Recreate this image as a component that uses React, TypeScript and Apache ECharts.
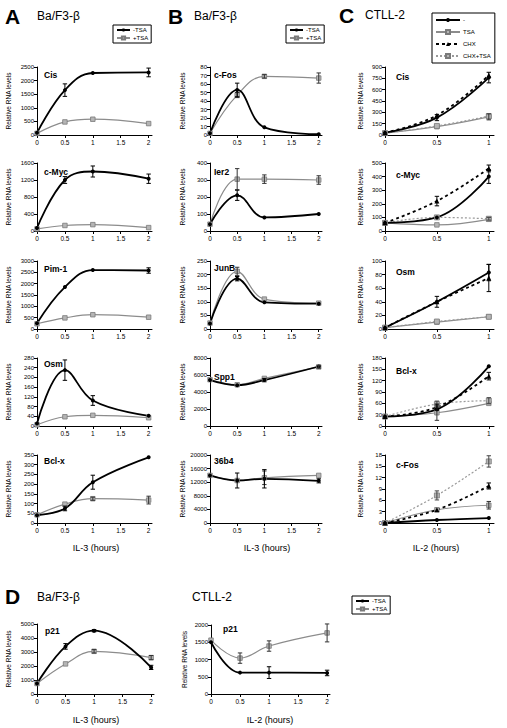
import React, { useEffect, useRef } from "react";
import * as echarts from "echarts";

const FONT = "'Liberation Sans', Arial, sans-serif";

// ---------------- x values (hours) ----------------
const HOURS_IL3 = [0, 0.5, 1, 2];
const HOURS_IL2_C = [0, 0.5, 1];
const HOURS_IL2_D = [0, 0.5, 1, 2];
const X_TICKS_2H = [0, 0.5, 1, 1.5, 2];
const X_TICKS_1H = [0, 0.5, 1];

// ---------------- Panel A: Ba/F3-β (-TSA / +TSA) ----------------
const A_CIS_NO = [80, 1650, 2280, 2300];
const A_CIS_NO_ERR = [0, 230, 0, 160];
const A_CIS_TSA = [60, 480, 580, 420];
const A_CIS_TSA_ERR = [0, 0, 0, 0];

const A_MYC_NO = [70, 1200, 1400, 1230];
const A_MYC_NO_ERR = [0, 80, 130, 110];
const A_MYC_TSA = [50, 130, 150, 80];
const A_MYC_TSA_ERR = [0, 0, 0, 0];

const A_PIM_NO = [250, 1850, 2600, 2580];
const A_PIM_NO_ERR = [0, 0, 0, 120];
const A_PIM_TSA = [230, 490, 630, 520];
const A_PIM_TSA_ERR = [0, 0, 0, 0];

const A_OSM_NO = [10, 230, 105, 42];
const A_OSM_NO_ERR = [0, 42, 20, 0];
const A_OSM_TSA = [5, 38, 44, 34];
const A_OSM_TSA_ERR = [0, 0, 0, 0];

const A_BCL_NO = [40, 75, 210, 338];
const A_BCL_NO_ERR = [0, 12, 36, 0];
const A_BCL_TSA = [42, 97, 125, 118];
const A_BCL_TSA_ERR = [0, 0, 8, 20];

// ---------------- Panel B: Ba/F3-β (-TSA / +TSA) ----------------
const B_FOS_NO = [2, 53, 9, 1];
const B_FOS_NO_ERR = [0, 8, 0, 0];
const B_FOS_TSA = [2, 47, 69, 67];
const B_FOS_TSA_ERR = [0, 3, 2, 6];

const B_IER2_NO = [40, 210, 80, 100];
const B_IER2_NO_ERR = [0, 30, 0, 0];
const B_IER2_TSA = [40, 305, 305, 300];
const B_IER2_TSA_ERR = [0, 62, 25, 25];

const B_JUNB_NO = [20, 185, 98, 93];
const B_JUNB_NO_ERR = [0, 8, 0, 0];
const B_JUNB_TSA = [22, 212, 110, 95];
const B_JUNB_TSA_ERR = [0, 15, 0, 0];

const B_SPP1_NO = [5400, 4800, 5400, 7000];
const B_SPP1_NO_ERR = [0, 0, 200, 0];
const B_SPP1_TSA = [5450, 4850, 5600, 6950];
const B_SPP1_TSA_ERR = [0, 0, 0, 150];

const B_36B4_NO = [14000, 12500, 13000, 12400];
const B_36B4_NO_ERR = [0, 2200, 2700, 600];
const B_36B4_TSA = [14000, 12500, 13300, 14000];
const B_36B4_TSA_ERR = [0, 0, 2000, 0];

// ---------------- Panel C: CTLL-2 (-, TSA, CHX, CHX+TSA) ----------------
const C_CIS_NO = [30, 230, 760];
const C_CIS_NO_ERR = [0, 40, 70];
const C_CIS_TSA = [25, 110, 240];
const C_CIS_TSA_ERR = [0, 0, 40];
const C_CIS_CHX = [30, 260, 790];
const C_CIS_CHX_ERR = [0, 0, 0];
const C_CIS_CHXTSA = [25, 120, 250];
const C_CIS_CHXTSA_ERR = [0, 0, 0];

const C_MYC_NO = [60, 100, 400];
const C_MYC_NO_ERR = [0, 0, 50];
const C_MYC_TSA = [60, 45, 86];
const C_MYC_TSA_ERR = [0, 0, 0];
const C_MYC_CHX = [60, 220, 460];
const C_MYC_CHX_ERR = [0, 35, 25];
const C_MYC_CHXTSA = [60, 100, 90];
const C_MYC_CHXTSA_ERR = [0, 0, 10];

const C_OSM_NO = [2, 40, 83];
const C_OSM_NO_ERR = [0, 8, 12];
const C_OSM_TSA = [2, 10, 18];
const C_OSM_TSA_ERR = [0, 0, 0];
const C_OSM_CHX = [2, 40, 75];
const C_OSM_CHX_ERR = [0, 0, 20];
const C_OSM_CHXTSA = [2, 11, 18];
const C_OSM_CHXTSA_ERR = [0, 0, 0];

const C_BCL_NO = [25, 44, 158];
const C_BCL_NO_ERR = [0, 0, 0];
const C_BCL_TSA = [25, 35, 60];
const C_BCL_TSA_ERR = [0, 20, 0];
const C_BCL_CHX = [25, 50, 132];
const C_BCL_CHX_ERR = [0, 8, 10];
const C_BCL_CHXTSA = [25, 58, 67];
const C_BCL_CHXTSA_ERR = [0, 8, 8];

const C_FOS_NO = [0, 0.8, 1.3];
const C_FOS_NO_ERR = [0, 0, 0];
const C_FOS_TSA = [0, 3.5, 4.7];
const C_FOS_TSA_ERR = [0, 0, 1];
const C_FOS_CHX = [0, 3.5, 9.8];
const C_FOS_CHX_ERR = [0, 0, 0.8];
const C_FOS_CHXTSA = [0, 7.3, 16.3];
const C_FOS_CHXTSA_ERR = [0, 1.2, 1.5];

// ---------------- Panel D: p21 ----------------
const D_BAF_NO = [750, 3400, 4520, 1900];
const D_BAF_NO_ERR = [0, 200, 80, 150];
const D_BAF_TSA = [750, 2150, 3050, 2600];
const D_BAF_TSA_ERR = [0, 0, 120, 150];

const D_CTLL_NO = [1500, 620, 620, 610];
const D_CTLL_NO_ERR = [0, 0, 170, 80];
const D_CTLL_TSA = [1560, 1040, 1390, 1770];
const D_CTLL_TSA_ERR = [0, 150, 150, 260];

// ---------------- series names ----------------
const AB_NAMES = ["-TSA", "+TSA"];
const C_NAMES = ["-", "TSA", "CHX", "CHX+TSA"];

// ---------------- styles ----------------
const STYLES: Record<string, any> = {
  black: {
    lineStyle: { color: "#000", width: 1.8 },
    symbol: "circle",
    symbolSize: 4,
    itemStyle: { color: "#000" },
    err: "#000",
  },
  gray: {
    lineStyle: { color: "#8c8c8c", width: 1.2 },
    symbol: "rect",
    symbolSize: 4.5,
    itemStyle: { color: "#b5b5b5", borderColor: "#7a7a7a", borderWidth: 0.8 },
    err: "#333",
  },
  blackDash: {
    lineStyle: { color: "#000", width: 1.8, type: [3, 3] },
    symbol: "triangle",
    symbolSize: 5,
    itemStyle: { color: "#000" },
    err: "#000",
  },
  grayDash: {
    lineStyle: { color: "#9a9a9a", width: 1.2, type: [2, 2] },
    symbol: "rect",
    symbolSize: 5,
    itemStyle: { color: "#b5b5b5", borderColor: "#7a7a7a", borderWidth: 0.8 },
    err: "#444",
  },
};

type Trace = [string, number[], number[], string];
interface PlotDef {
  gene: string;
  yMax: number;
  yStep: number;
  x: number[];
  xTicks: number[];
  xMax: number;
  traces: Trace[];
}

const ab = (no: number[], noErr: number[], tsa: number[], tsaErr: number[]): Trace[] => [
  [AB_NAMES[1], tsa, tsaErr, "gray"],
  [AB_NAMES[0], no, noErr, "black"],
];
const c4 = (
  no: number[], noE: number[], tsa: number[], tsaE: number[],
  chx: number[], chxE: number[], ct: number[], ctE: number[]
): Trace[] => [
  [C_NAMES[1], tsa, tsaE, "gray"],
  [C_NAMES[3], ct, ctE, "grayDash"],
  [C_NAMES[2], chx, chxE, "blackDash"],
  [C_NAMES[0], no, noE, "black"],
];

const PLOTS: PlotDef[] = [
  // A
  { gene: "Cis", yMax: 2500, yStep: 500, x: HOURS_IL3, xTicks: X_TICKS_2H, xMax: 2.06, traces: ab(A_CIS_NO, A_CIS_NO_ERR, A_CIS_TSA, A_CIS_TSA_ERR) },
  { gene: "c-Myc", yMax: 1600, yStep: 400, x: HOURS_IL3, xTicks: X_TICKS_2H, xMax: 2.06, traces: ab(A_MYC_NO, A_MYC_NO_ERR, A_MYC_TSA, A_MYC_TSA_ERR) },
  { gene: "Pim-1", yMax: 3000, yStep: 500, x: HOURS_IL3, xTicks: X_TICKS_2H, xMax: 2.06, traces: ab(A_PIM_NO, A_PIM_NO_ERR, A_PIM_TSA, A_PIM_TSA_ERR) },
  { gene: "Osm", yMax: 280, yStep: 40, x: HOURS_IL3, xTicks: X_TICKS_2H, xMax: 2.06, traces: ab(A_OSM_NO, A_OSM_NO_ERR, A_OSM_TSA, A_OSM_TSA_ERR) },
  { gene: "Bcl-x", yMax: 350, yStep: 50, x: HOURS_IL3, xTicks: X_TICKS_2H, xMax: 2.06, traces: ab(A_BCL_NO, A_BCL_NO_ERR, A_BCL_TSA, A_BCL_TSA_ERR) },
  // B
  { gene: "c-Fos", yMax: 80, yStep: 10, x: HOURS_IL3, xTicks: X_TICKS_2H, xMax: 2.06, traces: ab(B_FOS_NO, B_FOS_NO_ERR, B_FOS_TSA, B_FOS_TSA_ERR) },
  { gene: "Ier2", yMax: 400, yStep: 100, x: HOURS_IL3, xTicks: X_TICKS_2H, xMax: 2.06, traces: ab(B_IER2_NO, B_IER2_NO_ERR, B_IER2_TSA, B_IER2_TSA_ERR) },
  { gene: "JunB", yMax: 250, yStep: 50, x: HOURS_IL3, xTicks: X_TICKS_2H, xMax: 2.06, traces: ab(B_JUNB_NO, B_JUNB_NO_ERR, B_JUNB_TSA, B_JUNB_TSA_ERR) },
  { gene: "Spp1", yMax: 8000, yStep: 2000, x: HOURS_IL3, xTicks: X_TICKS_2H, xMax: 2.06, traces: ab(B_SPP1_NO, B_SPP1_NO_ERR, B_SPP1_TSA, B_SPP1_TSA_ERR) },
  { gene: "36b4", yMax: 20000, yStep: 4000, x: HOURS_IL3, xTicks: X_TICKS_2H, xMax: 2.06, traces: ab(B_36B4_NO, B_36B4_NO_ERR, B_36B4_TSA, B_36B4_TSA_ERR) },
  // C
  { gene: "Cis", yMax: 900, yStep: 150, x: HOURS_IL2_C, xTicks: X_TICKS_1H, xMax: 1.05, traces: c4(C_CIS_NO, C_CIS_NO_ERR, C_CIS_TSA, C_CIS_TSA_ERR, C_CIS_CHX, C_CIS_CHX_ERR, C_CIS_CHXTSA, C_CIS_CHXTSA_ERR) },
  { gene: "c-Myc", yMax: 500, yStep: 100, x: HOURS_IL2_C, xTicks: X_TICKS_1H, xMax: 1.05, traces: c4(C_MYC_NO, C_MYC_NO_ERR, C_MYC_TSA, C_MYC_TSA_ERR, C_MYC_CHX, C_MYC_CHX_ERR, C_MYC_CHXTSA, C_MYC_CHXTSA_ERR) },
  { gene: "Osm", yMax: 100, yStep: 20, x: HOURS_IL2_C, xTicks: X_TICKS_1H, xMax: 1.05, traces: c4(C_OSM_NO, C_OSM_NO_ERR, C_OSM_TSA, C_OSM_TSA_ERR, C_OSM_CHX, C_OSM_CHX_ERR, C_OSM_CHXTSA, C_OSM_CHXTSA_ERR) },
  { gene: "Bcl-x", yMax: 180, yStep: 30, x: HOURS_IL2_C, xTicks: X_TICKS_1H, xMax: 1.05, traces: c4(C_BCL_NO, C_BCL_NO_ERR, C_BCL_TSA, C_BCL_TSA_ERR, C_BCL_CHX, C_BCL_CHX_ERR, C_BCL_CHXTSA, C_BCL_CHXTSA_ERR) },
  { gene: "c-Fos", yMax: 18, yStep: 3, x: HOURS_IL2_C, xTicks: X_TICKS_1H, xMax: 1.05, traces: c4(C_FOS_NO, C_FOS_NO_ERR, C_FOS_TSA, C_FOS_TSA_ERR, C_FOS_CHX, C_FOS_CHX_ERR, C_FOS_CHXTSA, C_FOS_CHXTSA_ERR) },
  // D
  { gene: "p21", yMax: 5000, yStep: 1000, x: HOURS_IL3, xTicks: X_TICKS_2H, xMax: 2.05, traces: ab(D_BAF_NO, D_BAF_NO_ERR, D_BAF_TSA, D_BAF_TSA_ERR) },
  { gene: "p21", yMax: 2000, yStep: 500, x: HOURS_IL2_D, xTicks: X_TICKS_2H, xMax: 2.05, traces: ab(D_CTLL_NO, D_CTLL_NO_ERR, D_CTLL_TSA, D_CTLL_TSA_ERR) },
];

// ---------------- layout (pixels) ----------------
const ROW_TOPS = [67, 163, 261, 358, 455];
const ROW_H = 68;
const COLS = [
  { left: 37, width: 115, labelX: 44, nameGap: 25 },
  { left: 210, width: 112, labelX: 214, nameGap: 24 },
  { left: 385, width: 109, labelX: 396, nameGap: 21 },
];
const BOXES = [
  ...[0, 1, 2].flatMap((c) =>
    ROW_TOPS.map((t) => ({ left: COLS[c].left, top: t, width: COLS[c].width, height: ROW_H, labelX: COLS[c].labelX, nameGap: COLS[c].nameGap }))
  ),
  { left: 37, top: 624, width: 117, height: 70, labelX: 45, nameGap: 25 },
  { left: 211, top: 625, width: 119, height: 69, labelX: 223, nameGap: 23 },
];
const GENE_LABEL_Y = [75, 172, 269, 364, 461, 75, 172, 268, 377, 461, 77, 175, 272, 371, 465, 631, 629];

function errorBars(x: number[], y: number[], e: number[]) {
  const out: number[][] = [];
  x.forEach((xv, i) => {
    if (e[i] > 0) out.push([xv, y[i] - e[i], y[i] + e[i]]);
  });
  return out;
}

function buildOption() {
  const grid: any[] = [];
  const xAxis: any[] = [];
  const yAxis: any[] = [];
  const series: any[] = [];
  const graphic: any[] = [];

  PLOTS.forEach((p, i) => {
    const b = BOXES[i];
    grid.push({ left: b.left, top: b.top, width: b.width, height: b.height });
    xAxis.push({
      type: "value",
      gridIndex: i,
      min: 0,
      max: p.xMax,
      interval: 0.5,
      axisLine: { show: true, lineStyle: { color: "#000", width: 1 } },
      axisTick: { show: true, length: 3, lineStyle: { color: "#000" }, customValues: p.xTicks },
      axisLabel: {
        fontSize: 6.5,
        fontFamily: FONT,
        color: "#000",
        margin: 4,
        customValues: p.xTicks,
        formatter: (v: number) => (p.xTicks.some((t) => Math.abs(t - v) < 1e-6) ? String(v) : ""),
      },
      splitLine: { show: false },
    });
    yAxis.push({
      type: "value",
      gridIndex: i,
      min: 0,
      max: p.yMax,
      interval: p.yStep,
      name: "Relative RNA levels",
      nameLocation: "middle",
      nameGap: b.nameGap,
      nameTextStyle: { fontSize: 6.5, fontFamily: FONT, color: "#000" },
      axisLine: { show: true, lineStyle: { color: "#000", width: 1 } },
      axisTick: { show: true, length: 3, lineStyle: { color: "#000" } },
      axisLabel: { fontSize: 6, fontFamily: FONT, color: "#000", margin: 3, formatter: (v: number) => String(v) },
      splitLine: { show: false },
    });

    p.traces.forEach(([name, vals, errs, styleKey]) => {
      const st = STYLES[styleKey];
      series.push({
        type: "line",
        name,
        xAxisIndex: i,
        yAxisIndex: i,
        smooth: 0.4,
        data: p.x.map((xv, k) => [xv, vals[k]]),
        symbol: st.symbol,
        symbolSize: st.symbolSize,
        showSymbol: true,
        lineStyle: st.lineStyle,
        itemStyle: st.itemStyle,
        z: 3,
      });
      const eb = errorBars(p.x, vals, errs);
      if (eb.length) {
        const col = st.err;
        series.push({
          type: "custom",
          name: name + " error",
          xAxisIndex: i,
          yAxisIndex: i,
          data: eb,
          encode: { x: 0, y: [1, 2] },
          z: 4,
          renderItem: (_params: any, api: any) => {
            const xv = api.value(0);
            const lo = api.coord([xv, api.value(1)]);
            const hi = api.coord([xv, api.value(2)]);
            const cw = 2.2;
            const s = { stroke: col, lineWidth: 1 };
            return {
              type: "group",
              children: [
                { type: "line", shape: { x1: lo[0], y1: lo[1], x2: hi[0], y2: hi[1] }, style: s },
                { type: "line", shape: { x1: lo[0] - cw, y1: lo[1], x2: lo[0] + cw, y2: lo[1] }, style: s },
                { type: "line", shape: { x1: hi[0] - cw, y1: hi[1], x2: hi[0] + cw, y2: hi[1] }, style: s },
              ],
            };
          },
        });
      }
    });

    graphic.push({
      type: "text",
      x: b.labelX,
      y: GENE_LABEL_Y[i],
      style: { text: p.gene, font: `bold 8.5px ${FONT}`, fill: "#000", align: "left", verticalAlign: "middle" },
    });
  });

  const headText = (text: string, x: number, y: number, font: string, align = "left") => ({
    type: "text",
    x,
    y,
    style: { text, font, fill: "#000", align, verticalAlign: "middle" },
  });
  const letter = `bold 21px ${FONT}`;
  const sub = `12px ${FONT}`;
  const axisT = `9px ${FONT}`;
  graphic.push(
    headText("A", 5, 16, letter),
    headText("Ba/F3-β", 37, 16, sub),
    headText("B", 168, 16, letter),
    headText("Ba/F3-β", 194, 16, sub),
    headText("C", 339, 15, letter),
    headText("CTLL-2", 365, 15, sub),
    headText("D", 5, 596, letter),
    headText("Ba/F3-β", 37, 597, sub),
    headText("CTLL-2", 192, 597, sub),
    headText("IL-3 (hours)", 96, 548, axisT, "center"),
    headText("IL-3 (hours)", 267, 548, axisT, "center"),
    headText("IL-2 (hours)", 436, 548, axisT, "center"),
    headText("IL-3 (hours)", 96, 720, axisT, "center"),
    headText("IL-2 (hours)", 270, 720, axisT, "center")
  );

  const legendBase = {
    orient: "vertical",
    borderColor: "#000",
    borderWidth: 1,
    borderRadius: 0,
    selectedMode: false,
    itemGap: 2,
    itemWidth: 13,
    itemHeight: 4,
    padding: [2, 3, 2, 3],
    textStyle: { fontSize: 6, fontFamily: FONT, color: "#000", padding: [0, 0, 0, -2] },
  };
  const legend = [
    { ...legendBase, data: AB_NAMES, left: 113, top: 25 },
    { ...legendBase, data: AB_NAMES, left: 286, top: 25 },
    { ...legendBase, data: C_NAMES, left: 432, top: 13, itemWidth: 24, itemHeight: 5, itemGap: 6, padding: [4, 4, 4, 3] },
    { ...legendBase, data: AB_NAMES, left: 352, top: 596 },
  ];

  return {
    animation: false,
    backgroundColor: "#fff",
    textStyle: { fontFamily: FONT },
    grid,
    xAxis,
    yAxis,
    series,
    legend,
    graphic,
  };
}

export default function App() {
  const ref = useRef<HTMLDivElement>(null);
  useEffect(() => {
    if (!ref.current) return;
    const chart = echarts.init(ref.current, undefined, { renderer: "svg" });
    chart.setOption(buildOption() as any);
    return () => chart.dispose();
  }, []);
  return (
    <div
      ref={ref}
      style={{ position: "absolute", left: 0, top: 0, width: 507, height: 728, background: "#fff" }}
    />
  );
}
